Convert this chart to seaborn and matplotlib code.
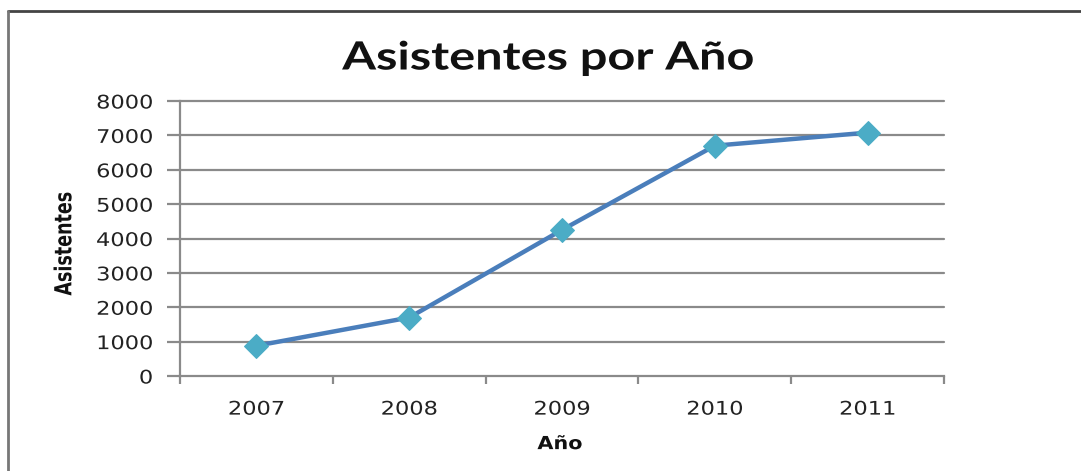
import matplotlib
matplotlib.use("Agg")
import matplotlib.pyplot as plt
import seaborn as sns
import pandas as pd
import numpy as np
from matplotlib.lines import Line2D
from matplotlib.patheffects import AbstractPathEffect
from matplotlib.transforms import Affine2D

# Data
years = ["2007", "2008", "2009", "2010", "2011"]
attendees = [880, 1700, 4250, 6700, 7080]

df = pd.DataFrame({"pos": np.arange(len(years)), "Asistentes": attendees})


class Stretch(AbstractPathEffect):
    """Scale glyphs in text space (sx along the baseline, sy across it)."""

    def __init__(self, sx=1.0, sy=1.0, anchor="center"):
        super().__init__()
        self.sx = sx
        self.sy = sy
        self.anchor = anchor

    def draw_path(self, renderer, gc, tpath, affine, rgbFace=None):
        ext = tpath.get_extents()
        if self.anchor == "right":
            cx = ext.x1
        elif self.anchor == "left":
            cx = ext.x0
        else:
            cx = 0.5 * (ext.x0 + ext.x1)
        t = Affine2D().translate(-cx, 0).scale(self.sx, self.sy).translate(cx, 0) + affine
        renderer.draw_path(gc, tpath, t, rgbFace)


sns.set_theme(style="white")
plt.rcParams["font.family"] = ["DejaVu Sans"]

fig = plt.figure(figsize=(10.81, 4.71), dpi=100)
ax = fig.add_axes([180 / 1081, 1 - 376 / 471, (944 - 180) / 1081, (376 - 101) / 471])

grid_col = "#8a8a8a"
ax.set_ylim(0, 8000)
ax.set_yticks(np.arange(0, 8001, 1000))
for v in np.arange(1000, 8001, 1000):
    ax.axhline(v, color=grid_col, lw=1.6, zorder=0, clip_on=False)

sns.lineplot(data=df, x="pos", y="Asistentes", ax=ax, color="#4a7ebb", lw=3.2,
             marker="D", markersize=12, markerfacecolor="#4bacc6",
             markeredgecolor="#4bacc6", zorder=3)

ax.set_xlim(-0.5, len(years) - 0.5)
ax.set_xticks(np.arange(len(years)))
ax.set_xticklabels(years)
ax.set_xticks(np.arange(-0.5, len(years)), minor=True)
ax.tick_params(bottom=True, left=True, which="both")
ax.tick_params(axis="x", which="major", length=0, pad=17, labelsize=13.5, colors="#222222")
ax.tick_params(axis="x", which="minor", length=6, width=1.6, color=grid_col, direction="out")
ax.tick_params(axis="y", which="major", length=9.5, width=1.6, color=grid_col, direction="out",
               pad=10, labelsize=13.5, labelcolor="#222222")

for lab in ax.get_xticklabels():
    lab.set_path_effects([Stretch(1.2, 1.0, "center")])
for lab in ax.get_yticklabels():
    lab.set_path_effects([Stretch(1.2, 1.0, "right")])

for s in ["top", "right"]:
    ax.spines[s].set_visible(False)
for s in ["left", "bottom"]:
    ax.spines[s].set_color(grid_col)
    ax.spines[s].set_linewidth(1.6)

ax.set_xlabel("Año", fontsize=13, fontweight="bold", color="#111111",
              path_effects=[Stretch(1.15, 1.0, "center")])
ax.xaxis.set_label_coords(0.497, -0.215)
ax.set_ylabel("Asistentes", fontsize=13, fontweight="bold", color="#111111",
              path_effects=[Stretch(0.97, 1.3, "center")])
ax.yaxis.set_label_coords(-0.137, 0.48)

fig.text(548 / 1081, 1 - 58 / 471, "Asistentes por Año", ha="center", va="center",
         fontsize=28, fontweight="bold", family=["Lato", "DejaVu Sans"], color="#111111",
         path_effects=[Stretch(1.25, 1.0, "center")])

# Chart frame
fig.add_artist(Line2D([8 / 1081, 1.01], [1 - 11 / 471] * 2, transform=fig.transFigure,
                      color="#444444", lw=2))
fig.add_artist(Line2D([8 / 1081] * 2, [-0.01, 1 - 11 / 471], transform=fig.transFigure,
                      color="#777777", lw=2))

fig.savefig("out.png", dpi=100)
